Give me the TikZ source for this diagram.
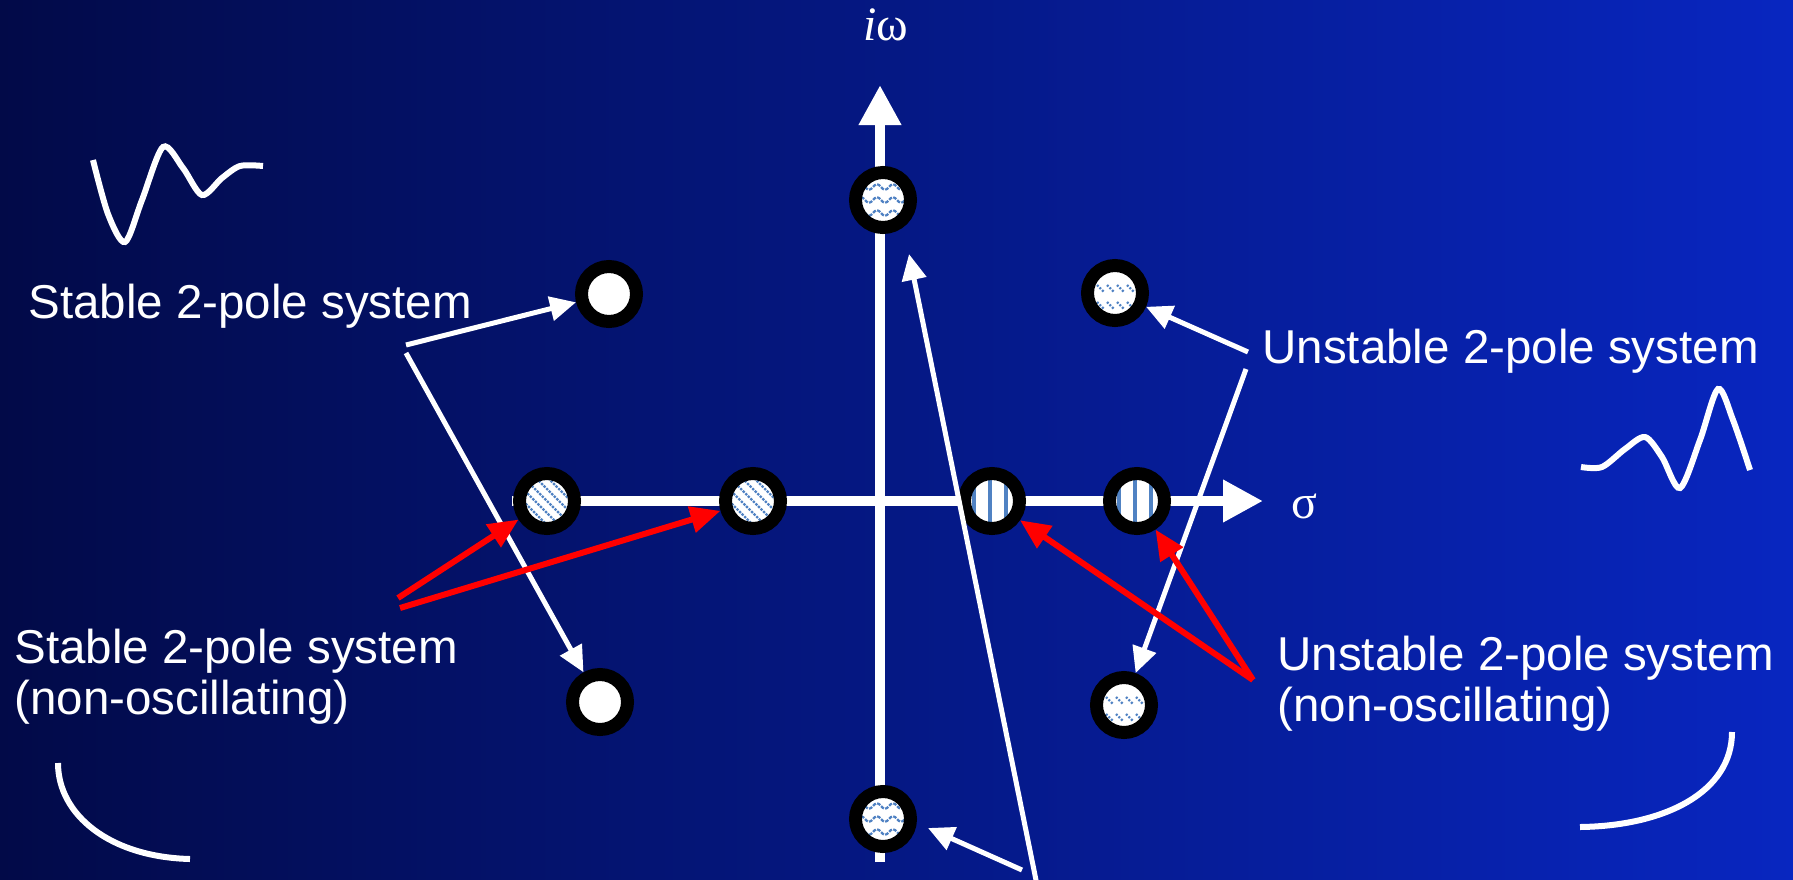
\documentclass[tikz,border=0pt]{standalone}
\usepackage{fontspec}
\setmainfont{Liberation Sans}
\newfontfamily\axisfont{Liberation Serif}
\usetikzlibrary{arrows.meta}
\definecolor{bgleft}{RGB}{2,10,72}
\definecolor{bgmid}{RGB}{4,26,145}
\definecolor{bgright}{RGB}{8,38,192}
\definecolor{hatchblue}{RGB}{80,130,195}

\begin{document}
\begin{tikzpicture}[x=0.5pt, y=-0.5pt,
  axis/.style={white, line width=5pt, -{Triangle[length=20pt, width=20pt]}},
  warrow/.style={white, line width=2.5pt, -{Triangle[length=13pt, width=12pt]}},
  rarrow/.style={red, line width=3pt, -{Triangle[length=15pt, width=13pt]}},
  response/.style={white, line width=3pt},
  lbl/.style={text=white, inner sep=0pt, anchor=base west, align=left,
    font=\fontsize{23.75pt}{25.5pt}\selectfont},
  axlbl/.style={text=white, inner sep=0pt, anchor=base west,
    font=\axisfont\fontsize{24pt}{26pt}\selectfont},
  hatchline/.style={hatchblue, line width=1.1pt},
  pole/.style={circle, draw=black, line width=6.5pt, fill=white,
    minimum size=27.5pt, inner sep=0pt},
  diagpole/.style={pole, path picture={
    \foreach \d in {-24,-18,...,24}
      \draw[hatchline, dash pattern=on 1.2pt off 0.6pt]
        (path picture bounding box.center) ++({\d pt-14pt},14pt) -- ++(28pt,-28pt);}},
  vertpole/.style={pole, path picture={
    \foreach \d in {-9,-1,7}
      \draw[hatchline, line width=1.8pt]
        (path picture bounding box.center) ++(\d pt,-14pt) -- ++(0pt,28pt);}},
  wavepole/.style={pole, path picture={
    \foreach \d in {-6.5,0,6.5}
      \draw[hatchline, dash pattern=on 1.8pt off 0.7pt]
        (path picture bounding box.center) ++(-13pt,\d pt)
        \foreach \k in {1,2,3,4} { sin ++(2pt,1.4pt) cos ++(2pt,-1.4pt)
          sin ++(2pt,-1.4pt) cos ++(2pt,1.4pt) };}},
  dotpole/.style={pole, path picture={
    \foreach \x in {-9,-4,1,6} {
      \draw[hatchline, dash pattern=on 1pt off 0.8pt]
        (path picture bounding box.center) ++(\x pt,4pt) -- ++(3.5pt,-3.5pt);
      \draw[hatchline, dash pattern=on 1pt off 0.8pt]
        (path picture bounding box.center) ++(\x pt,-4.5pt) -- ++(3.5pt,-3.5pt);}}}
]
\useasboundingbox (0,0) rectangle (1793,879);
\clip (0,0) rectangle (1793,879);
\shade[left color=bgleft, middle color=bgmid, right color=bgright] (0,0) rectangle (1793,879);

% axes
\coordinate (xl) at (512,501);
\coordinate (xr) at (1263,501);
\coordinate (yb) at (880,862);
\coordinate (yt) at (880,85);
\draw[axis] (xl) -- (xr);
\draw[axis] (yb) -- (yt);
\node[axlbl] (lblw) at (863,40) {\textit{i}ω};
\node[axlbl] (lbls) at (1291,518) {σ};

% poles
\node[pole] (ps1) at (609,294) {};
\node[pole] (ps2) at (600,702) {};
\node[diagpole] (pr1) at (547,501) {};
\node[diagpole] (pr2) at (753,501) {};
\node[vertpole] (pv1) at (992,501) {};
\node[vertpole] (pv2) at (1137,501) {};
\node[dotpole] (pu1) at (1115,293) {};
\node[dotpole] (pu2) at (1124,705) {};
\node[wavepole] (pi1) at (883,200) {};
\node[wavepole] (pi2) at (883,819) {};

% labels (two-line ones sit on their last baseline)
\node[lbl] (stab) at (28,318) {Stable 2-pole system};
\node[lbl] (stabno) at (14,714) {Stable 2-pole system\\(non-oscillating)};
\node[lbl] (unst) at (1262,363) {Unstable 2-pole system};
\node[lbl] (unstno) at (1277,721) {Unstable 2-pole system\\(non-oscillating)};

% pointers
\coordinate (cs1) at (406,345);
\coordinate (cs2) at (406,353);
\coordinate (cu1) at (1248,352);
\coordinate (cu2) at (1246,369);
\coordinate (crl) at (398,598);
\coordinate (crl2) at (400,608);
\coordinate (crr) at (1253,680);
\coordinate (cb) at (1037,885);
\coordinate (cb2) at (1022,870);
\coordinate (tipw) at (909,254);
\coordinate (tipw2) at (928,828);
\draw[warrow] (cs1) -- (ps1);
\draw[warrow] (cs2) -- (ps2);
\draw[warrow] (cu1) -- (pu1);
\draw[warrow] (cu2) -- (pu2);
\draw[warrow] (cb) -- (tipw);
\draw[warrow] (cb2) -- (tipw2);
\draw[rarrow] (crl) -- (pr1);
\draw[rarrow] (crl2) -- (pr2);
\draw[rarrow] (crr) -- (pv1);
\draw[rarrow] (crr) -- (pv2);

% impulse responses
\draw[response] plot[smooth] coordinates {(93,160) (108,214) (125,242) (142,200)
  (163,147) (183,168) (202,195) (222,178) (240,166) (263,166)};
\draw[response] plot[smooth] coordinates {(1581,467) (1602,467) (1625,449) (1645,437)
  (1662,457) (1680,488) (1700,440) (1718,389) (1733,420) (1750,470)};
\draw[response] (58,763) .. controls (58,815) and (110,857) .. (190,859);
\draw[response] (1732,732) .. controls (1732,792) and (1665,826) .. (1580,827);
\end{tikzpicture}
\end{document}
